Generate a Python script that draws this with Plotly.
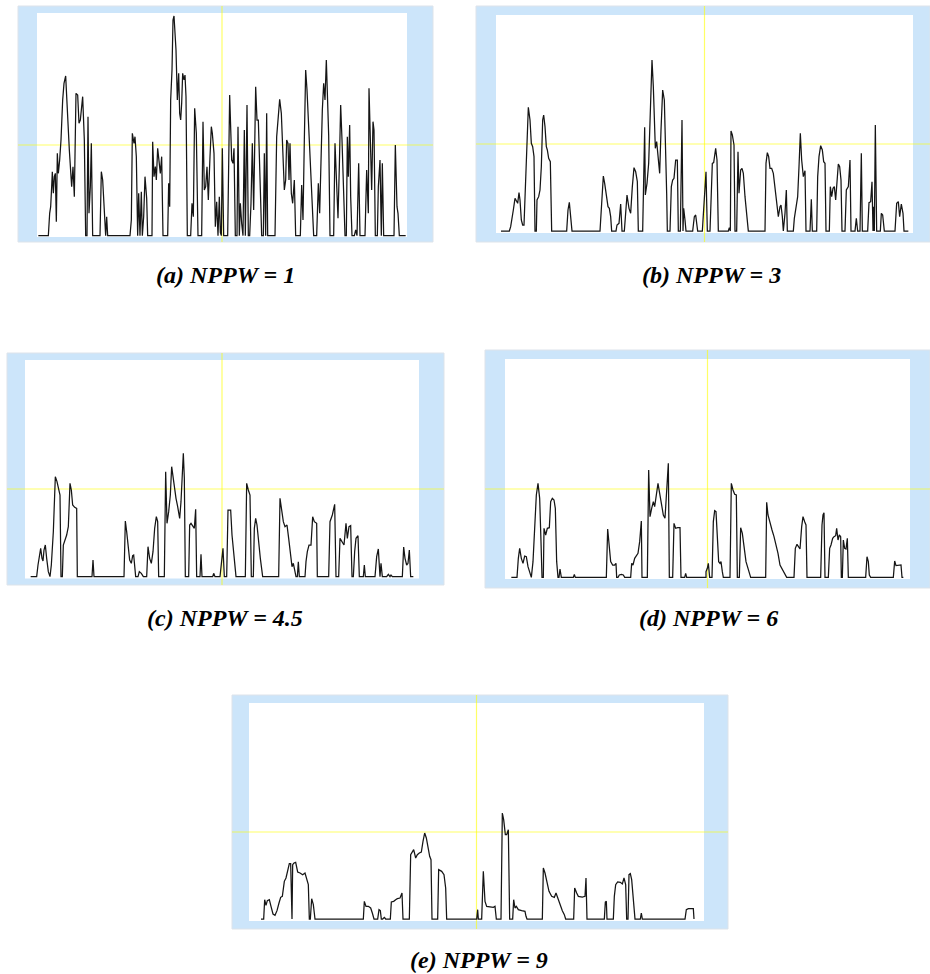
import plotly.graph_objects as go

# ---------------- data (time in samples, amplitude in arbitrary units) ----------------
sig_a = [(4,0),(34,0),(38,67),(41,87),(44,147),(46,192),(49,127),(52,177),(55,187),(58,42),(61,247),(64,187),(68,227),(72,287),(77,407),(81,457),(86,479),(89,407),(92,377),(97,257),(104,147),(108,207),(112,117),(117,427),(122,422),(126,337),(130,347),(133,377),(137,417),(142,287),(146,0),(150,0),(153,357),(156,67),(160,147),(163,277),(167,0),(189,0),(193,192),(197,167),(201,87),(206,0),(209,57),(212,0),(279,0),(283,47),(286,307),(291,277),(294,297),(298,237),(302,0),(305,127),(309,0),(313,132),(316,0),(320,57),(324,177),(329,112),(332,0),(345,0),(347,282),(351,177),(355,207),(358,167),(362,262),(366,227),(370,187),(374,237),(378,0),(392,0),(395,157),(398,87),(401,407),(405,497),(408,647),(411,659),(414,607),(417,557),(421,407),(425,487),(428,367),(431,347),(434,397),(437,487),(441,467),(444,482),(447,417),(451,0),(461,0),(465,97),(469,57),(473,382),(478,307),(483,0),(494,0),(498,342),(502,137),(506,147),(510,207),(514,107),(519,237),(523,327),(526,307),(531,247),(535,27),(539,102),(543,0),(547,117),(550,10),(553,0),(556,262),(560,0),(572,0),(578,422),(584,227),(588,217),(591,262),(595,0),(600,0),(603,327),(607,0),(610,97),(614,37),(618,0),(622,317),(625,0),(630,392),(634,0),(638,0),(642,97),(646,277),(650,77),(656,447),(660,347),(664,347),(668,227),(674,0),(679,0),(682,247),(686,0),(689,367),(692,0),(714,0),(719,297),(724,357),(728,409),(733,367),(737,257),(742,137),(746,167),(749,287),(753,277),(756,167),(759,277),(763,127),(767,97),(772,167),(776,0),(790,0),(794,152),(798,47),(802,287),(806,497),(810,437),(816,307),(824,147),(830,0),(839,0),(844,157),(848,67),(852,257),(856,377),(860,457),(864,407),(868,527),(872,377),(875,302),(879,0),(890,0),(894,277),(898,187),(903,52),(907,207),(911,392),(915,287),(919,167),(924,0),(928,0),(931,297),(934,177),(938,332),(941,117),(945,0),(952,0),(956,17),(960,0),(965,217),(969,0),(984,0),(989,197),(994,67),(996,442),(1000,287),(1004,137),(1008,342),(1011,317),(1015,0),(1021,0),(1024,147),(1029,227),(1033,0),(1036,217),(1040,0),(1071,0),(1075,272),(1080,87),(1083,67),(1087,0),(1106,0)]

sig_b = [(15,0),(40,0),(44,13),(48,33),(52,63),(57,98),(62,88),(65,83),(69,115),(72,93),(76,33),(80,18),(84,18),(88,133),(92,253),(97,371),(102,333),(106,263),(110,253),(114,223),(117,0),(121,0),(123,93),(128,103),(132,123),(136,193),(140,333),(143,348),(147,313),(151,253),(154,243),(158,218),(163,208),(167,0),(212,0),(216,63),(220,86),(224,43),(228,0),(312,0),(317,93),(322,165),(326,143),(332,93),(336,73),(340,68),(344,43),(347,0),(360,0),(363,18),(369,23),(374,81),(378,0),(385,0),(389,63),(393,108),(399,68),(404,53),(409,133),(414,190),(419,178),(424,148),(427,0),(440,0),(444,203),(446,311),(448,108),(453,143),(458,203),(462,333),(465,433),(468,513),(472,433),(475,313),(478,248),(482,268),(487,203),(491,173),(495,303),(500,423),(505,393),(509,253),(512,113),(514,0),(522,0),(526,133),(530,153),(534,158),(539,213),(544,213),(547,0),(553,0),(558,333),(561,0),(563,68),(567,33),(570,0),(590,0),(595,43),(599,48),(602,28),(605,0),(619,0),(625,93),(630,178),(634,0),(642,0),(649,203),(653,205),(659,248),(663,213),(667,0),(697,0),(700,10),(703,0),(705,300),(709,288),(714,258),(717,0),(722,0),(726,238),(729,113),(734,183),(738,188),(742,173),(747,103),(752,43),(757,0),(807,0),(810,203),(814,235),(818,223),(822,188),(827,188),(832,173),(837,133),(843,73),(847,43),(852,73),(855,78),(859,43),(862,0),(867,53),(871,123),(874,0),(892,0),(895,38),(900,73),(905,103),(909,193),(913,293),(917,213),(922,163),(927,181),(930,0),(942,0),(946,95),(949,0),(962,0),(965,163),(969,223),(974,256),(979,243),(983,208),(987,203),(990,0),(1000,0),(1003,133),(1007,103),(1011,128),(1015,133),(1019,93),(1023,153),(1027,201),(1031,193),(1035,153),(1038,0),(1047,0),(1051,123),(1057,133),(1062,213),(1065,0),(1077,0),(1081,38),(1085,0),(1092,0),(1096,233),(1099,0),(1115,0),(1119,85),(1124,88),(1128,148),(1131,0),(1133,73),(1135,0),(1138,318),(1142,0),(1153,0),(1156,53),(1160,48),(1165,0),(1197,0),(1202,83),(1207,88),(1211,43),(1216,81),(1221,53),(1224,0),(1237,0)]

sig_c = [(17,0),(35,0),(39,35),(43,55),(47,85),(51,55),(54,47),(57,80),(61,95),(65,55),(70,15),(75,0),(79,35),(85,135),(91,300),(96,285),(101,265),(105,245),(108,0),(112,0),(115,95),(120,110),(125,125),(130,150),(135,280),(139,260),(143,215),(149,208),(155,205),(157,0),(201,0),(204,50),(207,0),(297,0),(301,167),(305,135),(310,95),(314,50),(319,40),(323,63),(326,65),(329,25),(332,0),(339,0),(343,15),(349,10),(355,0),(365,0),(369,90),(374,55),(379,40),(384,75),(389,145),(394,180),(398,165),(401,0),(418,0),(422,315),(426,160),(431,195),(436,245),(440,330),(444,295),(448,275),(453,235),(458,210),(464,175),(468,225),(472,335),(475,370),(478,295),(481,0),(491,0),(494,155),(498,160),(503,150),(508,145),(512,202),(515,0),(525,0),(528,67),(531,0),(563,0),(566,10),(570,0),(585,0),(590,55),(594,85),(598,0),(605,0),(609,200),(617,200),(621,125),(627,55),(633,0),(661,0),(665,280),(670,260),(675,245),(679,0),(685,0),(688,145),(692,175),(696,155),(700,105),(706,55),(713,0),(761,0),(765,235),(770,205),(775,165),(780,150),(786,155),(791,115),(797,55),(801,30),(805,40),(809,20),(813,0),(817,0),(820,45),(823,0),(840,0),(843,45),(847,75),(852,95),(858,95),(863,180),(868,165),(875,160),(877,0),(911,0),(915,165),(922,185),(929,217),(933,0),(941,0),(945,115),(950,105),(957,95),(963,160),(967,115),(972,150),(977,153),(981,0),(985,0),(989,75),(993,115),(999,123),(1003,0),(1015,0),(1018,35),(1021,0),(1050,0),(1055,60),(1060,83),(1065,0),(1068,40),(1072,0),(1085,0),(1090,7),(1095,0),(1098,5),(1102,0),(1132,0),(1136,89),(1140,55),(1145,35),(1149,40),(1153,80),(1157,0),(1165,0)]

sig_d = [(19,0),(36,0),(40,57),(44,87),(49,57),(54,42),(59,64),(64,62),(69,32),(75,7),(79,0),(84,47),(89,137),(94,247),(99,282),(104,237),(108,107),(111,0),(115,0),(117,147),(122,127),(127,147),(133,149),(137,227),(142,237),(147,232),(151,207),(155,47),(159,0),(162,0),(165,25),(169,0),(205,0),(208,9),(211,0),(304,0),(308,145),(312,97),(317,47),(323,37),(329,37),(333,42),(335,0),(339,0),(343,7),(349,9),(355,7),(359,0),(377,0),(380,42),(384,37),(389,57),(394,67),(399,72),(404,107),(409,169),(411,0),(427,0),(431,322),(435,182),(440,207),(445,227),(449,212),(454,257),(459,282),(464,252),(469,217),(475,187),(480,177),(485,277),(490,342),(493,0),(503,0),(507,162),(512,147),(518,149),(525,149),(528,0),(539,0),(542,12),(545,0),(603,0),(603,17),(607,27),(610,42),(614,0),(621,0),(625,167),(629,200),(633,197),(637,117),(641,47),(645,42),(648,47),(652,17),(655,0),(675,0),(679,282),(684,262),(689,249),(694,247),(697,0),(703,0),(707,149),(712,132),(717,87),(723,47),(729,27),(735,7),(737,0),(782,0),(785,225),(789,187),(795,162),(801,142),(807,122),(813,97),(819,72),(825,37),(830,27),(835,17),(840,7),(845,0),(867,0),(871,87),(876,99),(881,92),(885,85),(890,152),(894,182),(899,167),(903,157),(906,0),(947,0),(951,157),(954,187),(957,194),(960,0),(970,0),(974,87),(978,97),(983,117),(987,122),(992,125),(995,147),(999,112),(1003,127),(1007,122),(1009,0),(1012,0),(1015,112),(1019,87),(1023,85),(1027,117),(1030,0),(1082,0),(1086,62),(1090,47),(1093,7),(1097,0),(1165,0),(1169,49),(1173,35),(1181,35),(1188,37),(1191,0),(1195,0)]

sig_e = [(36,0),(44,0),(47,58),(51,41),(55,55),(61,58),(66,38),(72,15),(78,11),(84,25),(90,48),(95,65),(100,68),(106,113),(111,123),(116,148),(121,166),(125,166),(127,0),(129,0),(131,163),(135,168),(140,170),(146,141),(153,138),(161,133),(168,138),(173,118),(178,103),(181,0),(184,0),(188,61),(193,43),(198,0),(343,0),(346,53),(351,38),(358,38),(365,33),(370,18),(375,0),(386,0),(390,28),(394,25),(397,0),(401,0),(406,5),(410,0),(424,0),(427,51),(434,53),(440,58),(445,61),(453,63),(459,78),(462,0),(481,0),(485,193),(490,203),(494,208),(500,183),(505,193),(511,198),(517,201),(522,233),(527,258),(532,243),(537,215),(542,188),(546,178),(549,0),(566,0),(569,148),(578,143),(585,133),(590,93),(593,0),(683,0),(686,28),(688,0),(698,0),(703,143),(708,53),(713,38),(723,36),(733,35),(738,38),(742,0),(756,0),(760,318),(764,298),(769,253),(773,253),(778,268),(782,0),(791,0),(794,58),(798,33),(802,38),(808,28),(818,25),(828,23),(831,8),(834,0),(880,0),(883,153),(888,138),(893,113),(900,83),(908,68),(916,65),(921,78),(926,63),(933,43),(940,25),(946,13),(950,0),(974,0),(977,93),(983,78),(988,68),(1000,66),(1008,68),(1011,123),(1014,0),(1066,0),(1069,51),(1072,53),(1074,0),(1093,0),(1096,68),(1100,103),(1106,111),(1114,110),(1120,105),(1125,123),(1130,103),(1133,0),(1137,0),(1140,133),(1144,136),(1148,118),(1152,73),(1156,28),(1158,0),(1174,0),(1177,18),(1180,0),(1308,0),(1312,28),(1318,31),(1328,31),(1333,31),(1335,0)]

signals = [sig_a, sig_b, sig_c, sig_d, sig_e]
titles = ["(a) NPPW = 1", "(b) NPPW = 3", "(c) NPPW = 4.5", "(d) NPPW = 6", "(e) NPPW = 9"]
window_len = [1110, 1251, 1182, 1215, 1365]     # samples per window
full_scale = [668, 648, 650, 655, 648]          # amplitude at top of window
thresholds = [272, 261, 263, 265, 261]          # horizontal marker level

# ---------------- layout (pixels) ----------------
W, H = 930, 974
white_px = [(37, 407, 13, 237), (496, 913, 15, 233), (25, 419, 360, 578.5),
            (505, 910, 359, 579), (249, 704, 703, 921)]
frame_px = [(18, 433, 6, 242), (476, 930, 6, 242), (7, 444, 353, 585),
            (485, 930, 350, 588), (232, 728, 695, 929)]
title_px = [(225, 275), (711, 275), (225, 618), (708, 618), (479, 960)]
UNITS_PER_PX = 3.0


def px(x):
    return x / W


def py(y):
    return 1 - y / H


fig = go.Figure()
shapes = []
annotations = []
layout_axes = {}

for i in range(5):
    n = "" if i == 0 else str(i + 1)
    wx0, wx1, wy0, wy1 = white_px[i]
    fx0, fx1, fy0, fy1 = frame_px[i]
    span = window_len[i]
    top = full_scale[i]
    bottom = top - (wy1 - wy0) * UNITS_PER_PX
    t_vals = [p[0] for p in signals[i]]
    v_vals = [p[1] for p in signals[i]]

    layout_axes["xaxis" + n] = dict(domain=[px(wx0), px(wx1)], range=[0, span], visible=False,
                                    anchor="y" + n, fixedrange=True)
    layout_axes["yaxis" + n] = dict(domain=[py(wy1), py(wy0)], range=[bottom, top], visible=False,
                                    anchor="x" + n, fixedrange=True)

    fig.add_trace(go.Scatter(x=t_vals, y=v_vals, mode="lines", xaxis="x" + n, yaxis="y" + n,
                             line=dict(color="#151515", width=1.25), showlegend=False,
                             hoverinfo="skip"))

    shapes.append(dict(type="rect", xref="paper", yref="paper", x0=px(fx0), x1=px(fx1),
                       y0=py(fy1), y1=py(fy0), fillcolor="#cce5fa",
                       line=dict(color="#dde3ea", width=1), layer="below"))
    shapes.append(dict(type="rect", xref="paper", yref="paper", x0=px(wx0), x1=px(wx1),
                       y0=py(wy1), y1=py(wy0), fillcolor="white", line=dict(width=0),
                       layer="below"))
    annotations.append(dict(text="<b><i>" + titles[i] + "</i></b>", xref="paper", yref="paper",
                            x=px(title_px[i][0]), y=py(title_px[i][1]), showarrow=False,
                            xanchor="center", yanchor="middle",
                            font=dict(family="Liberation Serif, Times New Roman, serif",
                                      size=24, color="black")))

for i in range(5):
    n = "" if i == 0 else str(i + 1)
    fx0, fx1, fy0, fy1 = frame_px[i]
    shapes.append(dict(type="line", xref="paper", yref="y" + n, x0=px(fx0), x1=px(fx1),
                       y0=thresholds[i], y1=thresholds[i],
                       line=dict(color="rgba(255,255,0,0.6)", width=1.2), layer="below"))
    shapes.append(dict(type="line", xref="x" + n, yref="paper", x0=window_len[i] / 2,
                       x1=window_len[i] / 2, y0=py(fy1), y1=py(fy0),
                       line=dict(color="rgba(255,255,0,0.6)", width=1.2), layer="below"))

fig.update_layout(width=W, height=H, margin=dict(l=0, r=0, t=0, b=0),
                  paper_bgcolor="white", plot_bgcolor="rgba(0,0,0,0)",
                  shapes=shapes, annotations=annotations, **layout_axes)

fig.write_html("out.html")
